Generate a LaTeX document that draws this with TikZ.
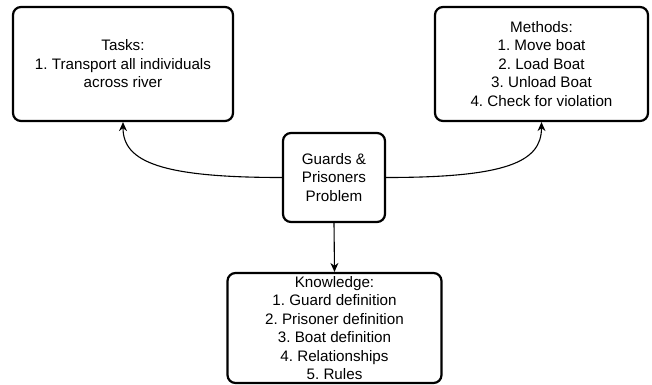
\documentclass[tikz,border=0pt]{standalone}
\usepackage{fontspec}
\setmainfont{Liberation Sans}
\usetikzlibrary{arrows.meta}
\frenchspacing

\begin{document}
\begin{tikzpicture}[x=1pt,y=-1pt]
            \tikzstyle{every node}+=[inner sep=0pt]
            \tikzstyle{block}=[draw=black,line width=2.2pt,rounded corners=8pt,fill=white,align=center,font=\fontsize{15.2}{18.5}\selectfont]
            \tikzstyle{link}=[black,line width=1.1pt,-{Stealth[length=9pt,width=8pt]}]
            \useasboundingbox (0,0) rectangle (652,384);
            \node (tasks) at (123,64) [block,minimum width=220pt,minimum height=114pt] {Tasks:\\1. Transport all individuals\\across river};
            \node (methods) at (541.5,64) [block,minimum width=213pt,minimum height=114pt] {Methods:\\1. Move boat\\2. Load Boat\\3. Unload Boat\\4. Check for violation};
            \node (prob) at (334,177.5) [block,minimum width=102pt,minimum height=89pt] {Guards \&\\Prisoners\\Problem};
            \node (know) at (334.5,328) [block,minimum width=214pt,minimum height=110pt] {Knowledge:\\1. Guard definition\\2. Prisoner definition\\3. Boat definition\\4. Relationships\\5. Rules};
            \draw [link] (prob.west) .. controls +(-120,0) and +(0,40) .. (tasks.south);
            \draw [link] (prob.east) .. controls +(120,0) and +(0,40) .. (methods.south);
            \draw [link] (prob.south) -- (know.north);
\end{tikzpicture}
\end{document}
